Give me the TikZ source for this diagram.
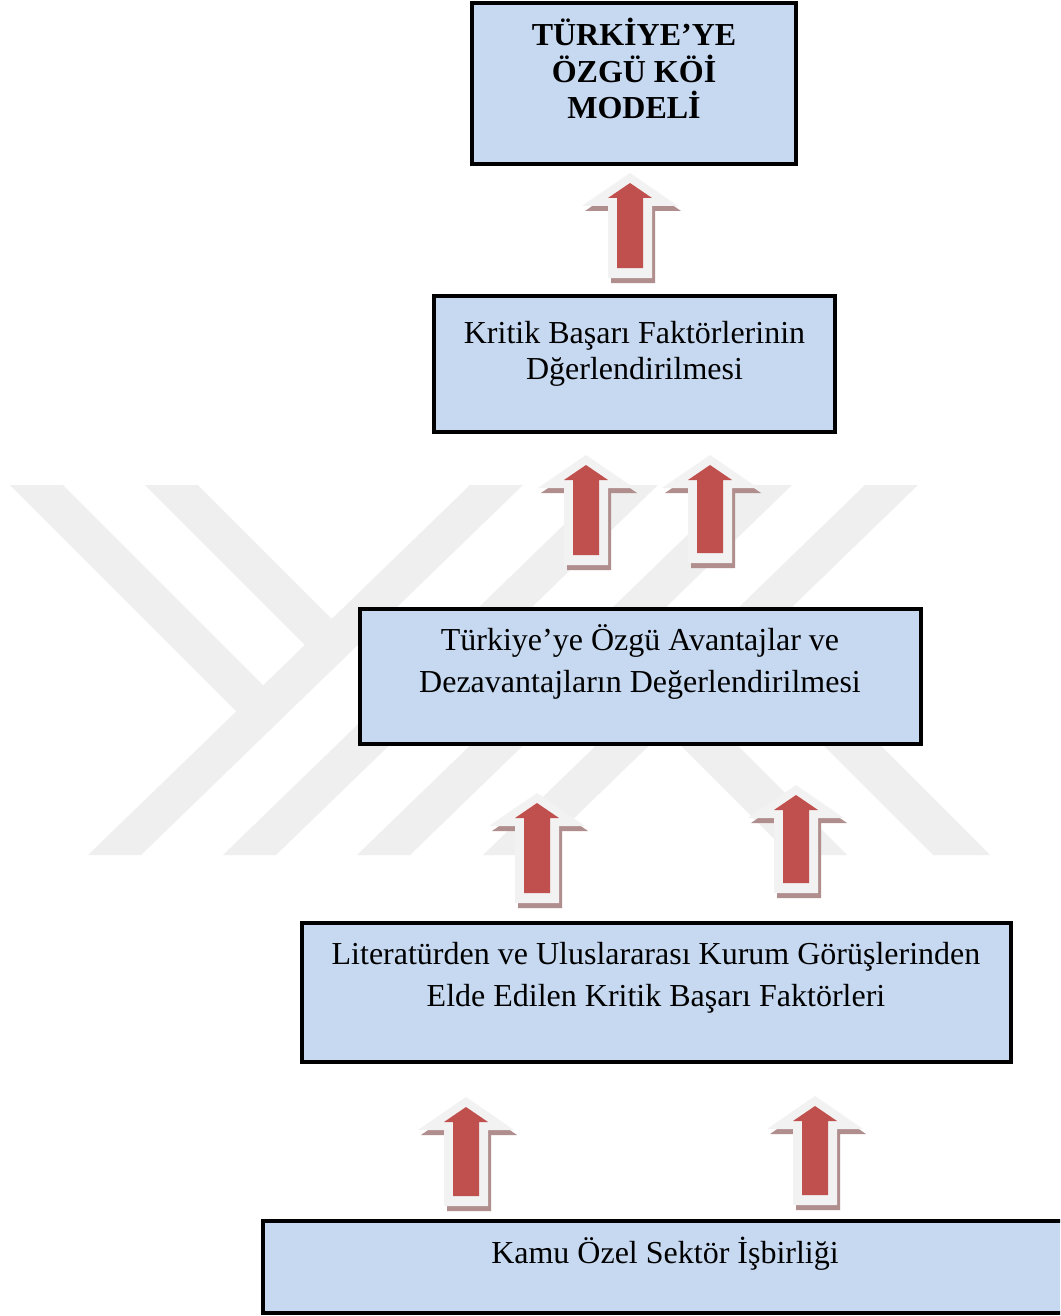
\documentclass[tikz,border=0pt]{standalone}
\usepackage{fontspec}
\setmainfont{Liberation Serif}
\usetikzlibrary{fit}
\definecolor{boxblue}{RGB}{198,217,241}
\definecolor{wmgray}{RGB}{239,239,239}
\definecolor{arrred}{RGB}{192,80,77}
\definecolor{arrlight}{RGB}{242,242,242}
\definecolor{arrshadow}{RGB}{176,142,142}
% block up-arrow: #1 centre x, #2 red tip y, #3 red bottom y (pixel units, y downwards)
\newcommand\blockup[3]{%
  \fill[arrshadow] ({#1+3},{#2-5}) -- ({#1+51},{#2+28}) -- ({#1+25},{#2+28}) -- ({#1+25},{#3+15})
     -- ({#1-19},{#3+15}) -- ({#1-19},{#2+28}) -- ({#1-45},{#2+28}) -- cycle;
  \fill[arrlight] ({#1},{#2-10}) -- ({#1+48},{#2+23}) -- ({#1+22},{#2+23}) -- ({#1+22},{#3+10})
     -- ({#1-22},{#3+10}) -- ({#1-22},{#2+23}) -- ({#1-48},{#2+23}) -- cycle;
  \fill[arrred] ({#1},{#2}) -- ({#1+22},{#2+15}) -- ({#1+13},{#2+15}) -- ({#1+13},{#3})
     -- ({#1-13},{#3}) -- ({#1-13},{#2+15}) -- ({#1-22},{#2+15}) -- cycle;
}
\begin{document}
\begin{tikzpicture}[x=0.75pt, y=-0.75pt,
  every node/.style={inner sep=0pt, outer sep=0pt},
  box/.style={draw=black, line width=3.2pt, fill=boxblue, rectangle},
  txt/.style={anchor=base, align=center, font=\fontsize{24pt}{31.5pt}\selectfont},
  txtnarrow/.style={anchor=base, align=center, font=\fontsize{24pt}{27pt}\selectfont},
  wm/.style={fill=wmgray}]
\useasboundingbox (0,0) rectangle (1060,1316);
\clip (0,0) rectangle (1060,1316);
\fill[white] (0,0) rectangle (1060,1316);

% faint watermark
\begin{scope}
\clip (0,485) rectangle (1060,855);
\foreach \b in {88,223,357,483}{
  \fill[wm] (\b,855) -- ({\b+53},855) -- ({\b+435},485) -- ({\b+382},485) -- cycle;
}
\fill[wm] (10,485) -- (63,485) -- (276,698) -- (249,724) -- cycle;
\fill[wm] (145,485) -- (198,485) -- (344,631) -- (318,658) -- cycle;
\fill[wm] (650,715) -- (707,715) -- (847,855) -- (790,855) -- cycle;
\fill[wm] (738,660) -- (795,660) -- (990,855) -- (933,855) -- cycle;
\end{scope}

% block arrows
\blockup{630}{183}{268}
\blockup{586}{465}{555}
\blockup{710}{465}{553}
\blockup{537}{803}{893}
\blockup{796}{795}{883}
\blockup{466}{1107}{1196}
\blockup{815}{1106}{1195}

% boxes
\node[box, fit={(472,3) (796,164)}] (b1) {};
\node[box, fit={(434,296) (835,432)}] (b2) {};
\node[box, fit={(360,609) (921,744)}] (b3) {};
\node[box, fit={(302,923) (1011,1062)}] (b4) {};
\node[box, fit={(263,1221) (1068,1313)}] (b5) {};

% texts (anchor=base is the baseline of the last line)
\node[txtnarrow, font=\fontsize{24pt}{27.4pt}\selectfont\bfseries] (t1) at (634,119) {TÜRKİYE’YE\\ÖZGÜ KÖİ\\MODELİ};
\node[txtnarrow] (t2) at (634.5,379) {Kritik Başarı Faktörlerinin\\Dğerlendirilmesi};
\node[txt] (t3) at (640,692) {Türkiye’ye Özgü Avantajlar ve\\Dezavantajların Değerlendirilmesi};
\node[txt] (t4) at (656,1006) {Literatürden ve Uluslararası Kurum Görüşlerinden\\Elde Edilen Kritik Başarı Faktörleri};
\node[txt] (t5) at (665,1263) {Kamu Özel Sektör İşbirliği};
\end{tikzpicture}
\end{document}
